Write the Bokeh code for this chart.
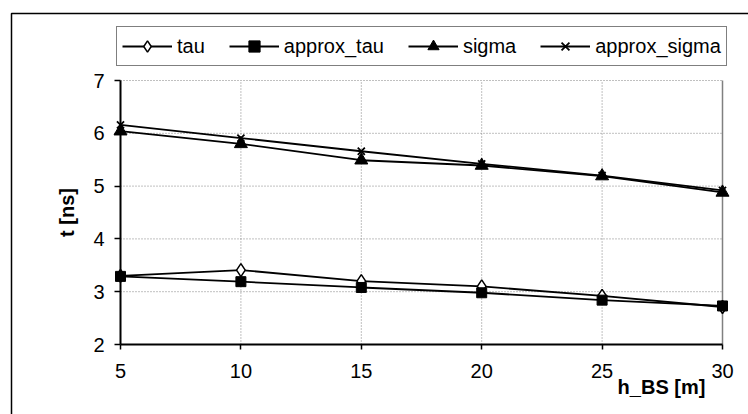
from bokeh.plotting import figure
from bokeh.models import Legend, LegendItem, Label, Range1d, FixedTicker
from bokeh.embed import file_html
from bokeh.resources import INLINE

# ---- data ----
h_bs = [5, 10, 15, 20, 25, 30]
tau = [3.30, 3.41, 3.20, 3.10, 2.92, 2.71]
approx_tau = [3.29, 3.19, 3.08, 2.98, 2.84, 2.73]
sigma = [6.04, 5.80, 5.49, 5.39, 5.19, 4.88]
approx_sigma = [6.16, 5.91, 5.66, 5.42, 5.20, 4.92]
x_ticks = [5, 10, 15, 20, 25, 30]
y_ticks = [2, 3, 4, 5, 6, 7]
series_names = ["tau", "approx_tau", "sigma", "approx_sigma"]
x_title = "h_BS [m]"
y_title = "t [ns]"

# ---- layout (pixels) ----
W, H = 748, 414
PLOT_L, PLOT_R, PLOT_T, PLOT_B = 120, 722, 80, 344
FONT = "Liberation Sans"

x0, x1 = x_ticks[0], x_ticks[-1]
y0, y1 = y_ticks[0], y_ticks[-1]
sx = (PLOT_R - PLOT_L) / (x1 - x0)
sy = (PLOT_B - PLOT_T) / (y1 - y0)


def px_x(px):
    return x0 + (px - PLOT_L) / sx


def px_y(py):
    return y0 + (PLOT_B - py) / sy


p = figure(width=W, height=H, output_backend="svg", toolbar_location=None,
           x_range=Range1d(px_x(0), px_x(W)), y_range=Range1d(px_y(H), px_y(0)),
           min_border=0)
p.background_fill_color = "white"
p.border_fill_color = "white"
p.outline_line_color = None
p.xgrid.visible = False
p.ygrid.visible = False

# axes drawn inside the canvas at the data origin
p.xaxis.fixed_location = y0
p.yaxis.fixed_location = x0
p.xaxis.bounds = (x0, x1)
p.yaxis.bounds = (y0, y1)
p.xaxis.ticker = FixedTicker(ticks=x_ticks)
p.yaxis.ticker = FixedTicker(ticks=y_ticks)
for ax in (p.xaxis, p.yaxis):
    ax.axis_line_color = "black"
    ax.axis_line_width = 2
    ax.major_tick_line_color = "black"
    ax.major_tick_line_width = 1.5
    ax.major_tick_in = 0
    ax.minor_tick_line_color = None
    ax.major_label_text_font = FONT
    ax.major_label_text_font_size = "20px"
    ax.major_label_text_color = "black"
p.xaxis.major_tick_out = 5
p.yaxis.major_tick_out = 6
p.xaxis.major_label_standoff = 14
p.yaxis.major_label_standoff = 10

p.yaxis.axis_label = y_title
p.yaxis.axis_label_text_font = FONT
p.yaxis.axis_label_text_font_size = "20px"
p.yaxis.axis_label_text_font_style = "bold"
p.yaxis.axis_label_text_color = "black"
p.yaxis.axis_label_standoff = 12

# grid lines limited to the plot area
p.segment(x0=x_ticks[1:-1], y0=y0, x1=x_ticks[1:-1], y1=y1,
          line_color="#808080", line_width=1, line_dash="1 2", level="underlay")
p.segment(x0=x0, y0=y_ticks[1:], x1=x1, y1=y_ticks[1:],
          line_color="#808080", line_width=1, line_dash="1 2", level="underlay")
p.segment(x0=[x1], y0=y0, x1=[x1], y1=y1,
          line_color="#808080", line_width=1.5, level="underlay")

# outer chart-area frame (left & top edges)
p.line([px_x(11), px_x(11), px_x(W + 20)], [px_y(H + 20), px_y(13), px_y(13)],
       line_color="black", line_width=1.5)

# series
lw = 1.8
r1 = p.line(h_bs, tau, line_color="black", line_width=lw)
m1 = p.scatter(h_bs, tau, marker="diamond", size=13, fill_color="white",
               line_color="black", line_width=1.5)
r2 = p.line(h_bs, approx_tau, line_color="black", line_width=lw)
m2 = p.scatter(h_bs, approx_tau, marker="square", size=10, fill_color="black",
               line_color="black")
r3 = p.line(h_bs, sigma, line_color="black", line_width=lw)
m3 = p.scatter(h_bs, sigma, marker="triangle", size=13, fill_color="black",
               line_color="black")
r4 = p.line(h_bs, approx_sigma, line_color="black", line_width=lw)
m4 = p.scatter(h_bs, approx_sigma, marker="x", size=10, line_color="black",
               line_width=1.8)

items = [LegendItem(label=n, renderers=[r, m])
         for n, r, m in zip(series_names, [r1, r2, r3, r4], [m1, m2, m3, m4])]
legend = Legend(items=items, orientation="horizontal", location=(116, H - 66),
                label_text_font=FONT, label_text_font_size="20px",
                label_text_color="black", glyph_width=50, glyph_height=28,
                label_standoff=5, spacing=24, padding=5, margin=0,
                border_line_color="black", border_line_width=1.5,
                background_fill_color="white", background_fill_alpha=1)
p.add_layout(legend, "center")

# x axis title placed between the last tick labels, like the original
p.add_layout(Label(x=px_x(661), y=px_y(386), text=x_title, text_font=FONT,
                   text_font_size="20px", text_font_style="bold",
                   text_align="center", text_baseline="middle",
                   text_color="black"))

open("out.html", "w").write(file_html(p, INLINE))
